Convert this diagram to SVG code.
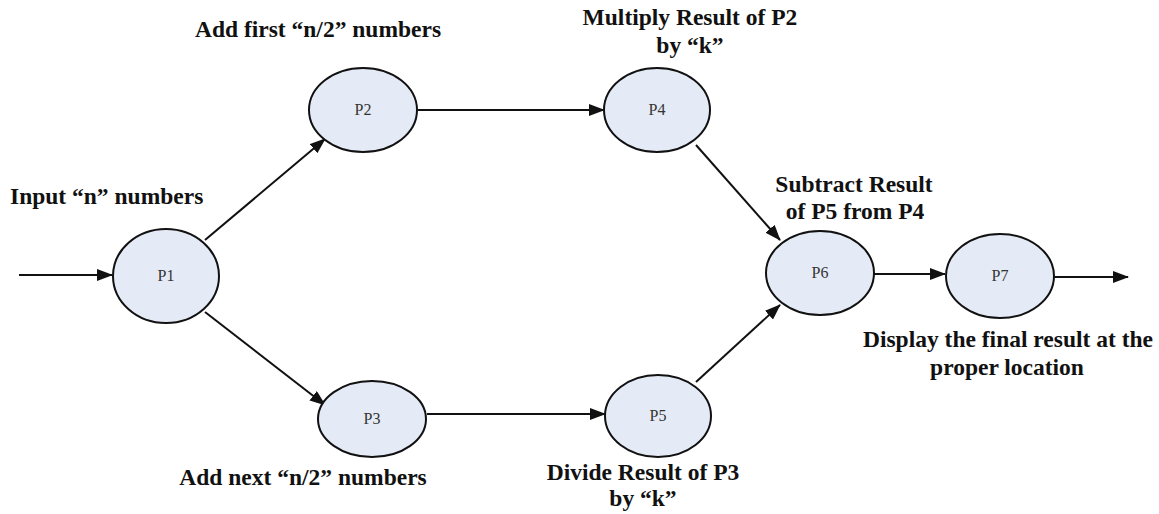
<svg xmlns="http://www.w3.org/2000/svg" width="1159" height="514" viewBox="0 0 1159 514">
<style>
.n{fill:#e5ebf6;stroke:#111;stroke-width:2}
.t{font-family:"Liberation Serif",serif;font-size:16px;fill:#333;text-anchor:middle}
.l{font-family:"Liberation Serif",serif;font-size:23.5px;font-weight:bold;fill:#111}
.m{text-anchor:middle}
.c{stroke:#111;stroke-width:2;fill:none;marker-end:url(#a)}
</style>
<defs>
<marker id="a" markerWidth="16" markerHeight="12" refX="15" refY="6" orient="auto" markerUnits="userSpaceOnUse">
<path d="M0,0 L16,6 L0,12 z" fill="#111"/>
</marker>
</defs>
<rect width="1159" height="514" fill="#fff"/>
<g id="connectors">
<line class="c" x1="19" y1="275" x2="112" y2="275"/>
<line class="c" x1="205" y1="240" x2="325" y2="139"/>
<line class="c" x1="205" y1="312" x2="325" y2="405"/>
<line class="c" x1="418" y1="110" x2="604" y2="110"/>
<line class="c" x1="427" y1="414" x2="605" y2="414"/>
<line class="c" x1="696" y1="145" x2="780" y2="240"/>
<line class="c" x1="696" y1="382" x2="780" y2="305"/>
<line class="c" x1="874" y1="274" x2="945" y2="274"/>
<line class="c" x1="1054" y1="277" x2="1128" y2="277"/>
</g>
<g id="P1"><ellipse class="n" cx="166" cy="276" rx="53" ry="47"/><text class="t" x="166" y="281">P1</text></g>
<g id="P2"><ellipse class="n" cx="363" cy="110" rx="54" ry="42"/><text class="t" x="363" y="115">P2</text></g>
<g id="P3"><ellipse class="n" cx="372" cy="419" rx="54" ry="38"/><text class="t" x="372" y="424">P3</text></g>
<g id="P4"><ellipse class="n" cx="657" cy="110" rx="53" ry="42"/><text class="t" x="657" y="115">P4</text></g>
<g id="P5"><ellipse class="n" cx="658" cy="416" rx="53" ry="41"/><text class="t" x="658" y="421">P5</text></g>
<g id="P6"><ellipse class="n" cx="820" cy="273" rx="54" ry="42"/><text class="t" x="820" y="278">P6</text></g>
<g id="P7"><ellipse class="n" cx="1000" cy="276" rx="54" ry="42"/><text class="t" x="1000" y="281">P7</text></g>
<g id="labels">
<text class="l" x="10" y="204">Input “n” numbers</text>
<text class="l m" x="318" y="37">Add first “n/2” numbers</text>
<text class="l m" x="690" y="25">Multiply Result of P2</text>
<text class="l m" x="690" y="53">by “k”</text>
<text class="l m" x="854" y="192">Subtract Result</text>
<text class="l m" x="855" y="219">of P5 from P4</text>
<text class="l m" x="1008" y="347">Display the final result at the</text>
<text class="l m" x="1007" y="375">proper location</text>
<text class="l m" x="303" y="485">Add next “n/2” numbers</text>
<text class="l m" x="643" y="480">Divide Result of P3</text>
<text class="l m" x="643" y="506">by “k”</text>
</g>
</svg>
